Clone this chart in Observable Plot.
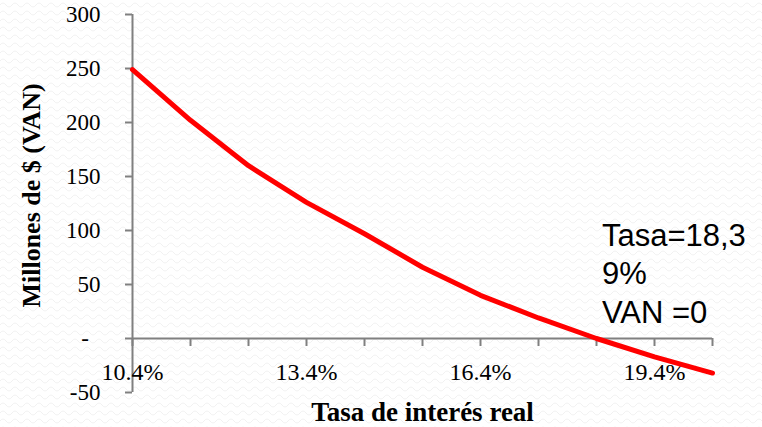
<!DOCTYPE html>
<html>
<head>
<meta charset="utf-8">
<script src="https://cdn.jsdelivr.net/npm/d3@7"></script>
<script src="https://cdn.jsdelivr.net/npm/@observablehq/plot@0.6"></script>
<style>
  html, body { margin: 0; padding: 0; background-color: #ffffff; }
  body {
    background-image: url("data:image/svg+xml;utf8,<svg xmlns='http://www.w3.org/2000/svg' width='12' height='8'><path d='M0 5 Q3 1 6 5 T12 5' fill='none' stroke='%23f1f1f1' stroke-width='1'/></svg>");
    background-repeat: repeat;
  }
  #chart svg { display: block; }
</style>
</head>
<body>
<div id="chart"></div>
<script>
// Data
const rates = [10.4, 11.4, 12.4, 13.4, 14.4, 15.4, 16.4, 17.4, 18.4, 19.4, 20.4]; // % tasa de interés real
const van   = [249, 202, 160, 126, 97, 66, 40, 19, 0, -17, -32];                  // millones de $
const xLabelTicks = [10.4, 13.4, 16.4, 19.4];
const yTicks = [-50, 0, 50, 100, 150, 200, 250, 300];
const irr = 18.39;
const annotation = "Tasa=18,3\n9%\nVAN =0";
const xTitle = "Tasa de interés real";
const yTitle = "Millones de $ (VAN)";

const data = rates.map((r, i) => ({rate: r, van: van[i]}));
const axisColor = "#808080";
const serif = "'Liberation Serif', 'Times New Roman', serif";

const chart = Plot.plot({
  width: 762,
  height: 427,
  marginLeft: 132,
  marginRight: 50,
  marginTop: 14,
  marginBottom: 35,
  style: {background: "transparent", fontFamily: serif, color: "#000", overflow: "visible"},
  x: {domain: [10.4, 20.4]},
  y: {domain: [-50, 300]},
  marks: [
    // y axis
    Plot.ruleX([10.4], {stroke: axisColor, strokeWidth: 2}),
    Plot.axisY({
      ticks: yTicks,
      tickSize: 7,
      tickPadding: 25,
      stroke: axisColor,
      strokeWidth: 2,
      fontSize: 23,
      fontFamily: serif,
      fill: "#000",
      label: null,
      tickFormat: d => d === 0 ? "-\u00a0\u00a0" : String(d)
    }),
    // x axis line at zero
    Plot.ruleY([0], {stroke: axisColor, strokeWidth: 2}),
    // x ticks at every category, drawn at y = 0
    Plot.axisX({
      ticks: rates,
      anchor: "bottom",
      dy: -54,
      tickSize: 8,
      stroke: axisColor,
      strokeWidth: 2,
      tickFormat: () => "",
      label: null
    }),
    // x tick labels every 3 categories
    Plot.axisX({
      ticks: xLabelTicks,
      anchor: "bottom",
      dy: -54,
      tickSize: 0,
      tickPadding: 24,
      fontSize: 24,
      fontFamily: serif,
      fill: "#000",
      tickFormat: d => d.toFixed(1) + "%",
      label: null
    }),
    // the NPV curve
    Plot.line(data, {x: "rate", y: "van", stroke: "#ff0000", strokeWidth: 5, strokeLinejoin: "round", strokeLinecap: "round"}),
    // annotation
    Plot.text([annotation], {
      x: irr, y: 0,
      text: d => d,
      textAnchor: "start",
      lineAnchor: "bottom",
      lineHeight: 1.24,
      dx: 6, dy: -16,
      fontSize: 31,
      fontFamily: "'Liberation Sans', Arial, sans-serif",
      fill: "#000"
    }),
    // axis titles
    Plot.text([xTitle], {
      frameAnchor: "bottom",
      text: d => d,
      textAnchor: "middle",
      lineAnchor: "middle",
      dy: 20,
      fontSize: 27,
      fontWeight: "bold",
      fontFamily: serif,
      fill: "#000"
    }),
    Plot.text([yTitle], {
      frameAnchor: "left",
      text: d => d,
      rotate: -90,
      textAnchor: "middle",
      lineAnchor: "middle",
      dx: -101, dy: -8,
      fontSize: 26,
      fontWeight: "bold",
      fontFamily: serif,
      fill: "#000"
    })
  ]
});

document.getElementById("chart").appendChild(chart);
</script>
</body>
</html>
